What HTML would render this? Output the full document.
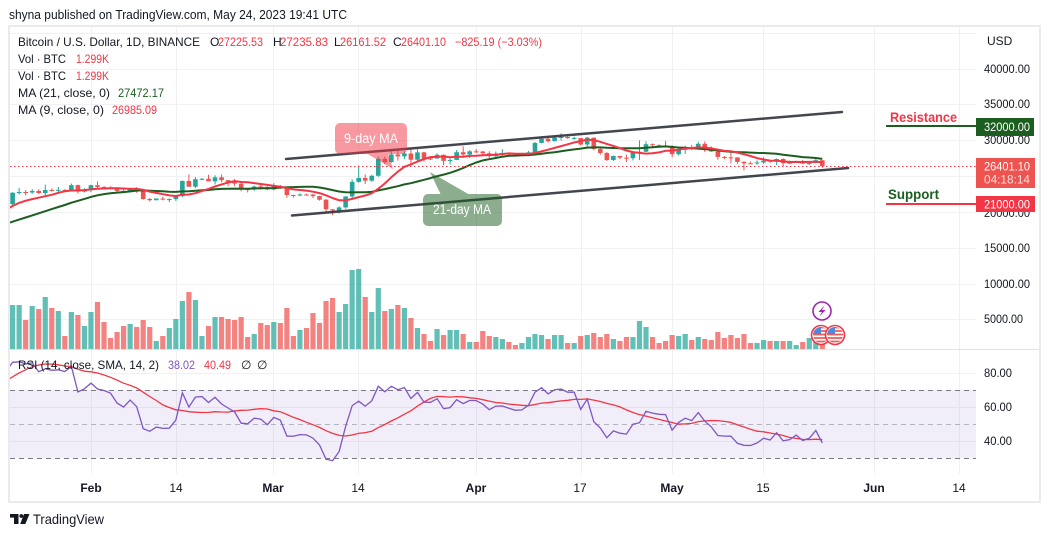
<!DOCTYPE html>
<html><head><meta charset="utf-8">
<style>
html,body{margin:0;padding:0;background:#fff;width:1050px;height:537px;overflow:hidden}
svg{display:block;font-family:"Liberation Sans",Arial,sans-serif}
</style></head><body>
<svg id="c" width="1050" height="537" viewBox="0 0 1050 537" xmlns="http://www.w3.org/2000/svg">
<defs>
<clipPath id="cm"><rect x="10" y="27" width="966" height="322"/></clipPath>
<clipPath id="cr"><rect x="10" y="350" width="966" height="124"/></clipPath>
<clipPath id="f1"><circle cx="821" cy="335" r="8"/></clipPath>
<clipPath id="f2"><circle cx="835" cy="335" r="8"/></clipPath>
</defs>
<rect width="1050" height="537" fill="#fff"/>
<text x="9" y="19" font-size="13" fill="#131722" textLength="338" lengthAdjust="spacingAndGlyphs">shyna published on TradingView.com, May 24, 2023 19:41 UTC</text>

<!-- grid -->
<g stroke="#eff1f5" stroke-width="1" fill="none">
<path d="M10 33.5H976M10 69.5H976M10 104.5H976M10 140.5H976M10 176.5H976M10 212.5H976M10 248.5H976M10 284.5H976M10 319.5H976"/>
<path d="M10 373.5H976M10 407.5H976M10 441.5H976"/>
<path d="M91.5 27V474M176.5 27V474M273.5 27V474M358.5 27V474M476.5 27V474M581.5 27V474M672.5 27V474M763.5 27V474M874.5 27V474M959.5 27V474"/>
</g>
<!-- RSI band -->
<rect x="10" y="390" width="966" height="68" fill="rgba(126,87,194,0.1)"/>
<g stroke-width="1" stroke-dasharray="5,4" fill="none">
<path d="M10 390.5H976M10 458.5H976" stroke="#787b86"/>
<path d="M10 424.5H976" stroke="#b2b5be"/>
</g>
<line x1="10" y1="349.5" x2="1040" y2="349.5" stroke="#e0e3eb" stroke-width="1"/>

<g clip-path="url(#cm)">
<g id="vol"></g>
<g id="cdl"></g>
<path id="ma21" fill="none" stroke="#1b5e20" stroke-width="2" stroke-linejoin="round"/>
<path id="ma9" fill="none" stroke="#f23645" stroke-width="2" stroke-linejoin="round"/>
</g>
<g clip-path="url(#cr)">
<path id="rsima" fill="none" stroke="#f23645" stroke-width="1.3"/>
<path id="rsi" fill="none" stroke="#7e57c2" stroke-width="1.3"/>
</g>

<!-- channel -->
<g stroke="#2f323c" stroke-width="2.5" stroke-linecap="round" opacity="0.9">
<line x1="286" y1="159" x2="842" y2="112"/>
<line x1="292" y1="215.5" x2="848" y2="168"/>
</g>
<line x1="10" y1="166.5" x2="976" y2="166.5" stroke="#f23645" stroke-width="1" stroke-dasharray="1.5,2.5"/>

<!-- callouts -->
<g opacity="0.5" fill="#f23645">
<rect x="335" y="123" width="72" height="31" rx="5"/>
<polygon points="366,153 388,153 393,169"/>
</g>
<text x="371" y="143" font-size="13.5" fill="#fff" text-anchor="middle" textLength="54" lengthAdjust="spacingAndGlyphs">9-day MA</text>
<g opacity="0.5" fill="#1b5e20">
<rect x="423" y="194" width="79" height="32" rx="5"/>
<polygon points="430,172 441,195 470,195"/>
</g>
<text x="462" y="214" font-size="13.5" fill="#fff" text-anchor="middle" textLength="58" lengthAdjust="spacingAndGlyphs">21-day MA</text>

<!-- resistance/support -->
<line x1="886" y1="126" x2="976" y2="126" stroke="#1b5e20" stroke-width="2"/>
<text x="890" y="122" font-size="14" font-weight="bold" fill="#f23645" textLength="67" lengthAdjust="spacingAndGlyphs">Resistance</text>
<line x1="886" y1="204" x2="976" y2="204" stroke="#f23645" stroke-width="2"/>
<text x="888" y="199" font-size="14" font-weight="bold" fill="#1b5e20" textLength="51" lengthAdjust="spacingAndGlyphs">Support</text>

<!-- legend -->
<g font-size="12" fill="#131722">
<text x="18" y="46" textLength="182" lengthAdjust="spacingAndGlyphs">Bitcoin / U.S. Dollar, 1D, BINANCE</text>
<text x="210" y="46">O</text><text x="218" y="46" fill="#f23645" textLength="45" lengthAdjust="spacingAndGlyphs">27225.53</text>
<text x="273" y="46">H</text><text x="280" y="46" fill="#f23645" textLength="48" lengthAdjust="spacingAndGlyphs">27235.83</text>
<text x="334" y="46">L</text><text x="340" y="46" fill="#f23645" textLength="46" lengthAdjust="spacingAndGlyphs">26161.52</text>
<text x="393" y="46">C</text><text x="401" y="46" fill="#f23645" textLength="45" lengthAdjust="spacingAndGlyphs">26401.10</text>
<text x="455" y="46" fill="#f23645" textLength="87" lengthAdjust="spacingAndGlyphs">−825.19 (−3.03%)</text>
<text x="18" y="63" textLength="48" lengthAdjust="spacingAndGlyphs">Vol · BTC</text><text x="76" y="63" fill="#f23645" textLength="33" lengthAdjust="spacingAndGlyphs">1.299K</text>
<text x="18" y="80" textLength="48" lengthAdjust="spacingAndGlyphs">Vol · BTC</text><text x="76" y="80" fill="#f23645" textLength="33" lengthAdjust="spacingAndGlyphs">1.299K</text>
<text x="18" y="97" textLength="92" lengthAdjust="spacingAndGlyphs">MA (21, close, 0)</text><text x="118" y="97" fill="#1b5e20" textLength="46" lengthAdjust="spacingAndGlyphs">27472.17</text>
<text x="18" y="114" textLength="86" lengthAdjust="spacingAndGlyphs">MA (9, close, 0)</text><text x="112" y="114" fill="#f23645" textLength="45" lengthAdjust="spacingAndGlyphs">26985.09</text>
<text x="18" y="369" textLength="141" lengthAdjust="spacingAndGlyphs">RSI (14, close, SMA, 14, 2)</text>
<text x="168" y="369" fill="#7e57c2" textLength="27" lengthAdjust="spacingAndGlyphs">38.02</text>
<text x="204" y="369" fill="#f23645" textLength="27" lengthAdjust="spacingAndGlyphs">40.49</text>
<text x="241" y="369">∅</text><text x="257" y="369">∅</text>
</g>

<!-- price axis -->
<g font-size="12" fill="#131722">
<text x="987" y="45">USD</text>
<text x="984" y="73" textLength="46" lengthAdjust="spacingAndGlyphs">40000.00</text>
<text x="984" y="108" textLength="46" lengthAdjust="spacingAndGlyphs">35000.00</text>
<text x="984" y="144" textLength="46" lengthAdjust="spacingAndGlyphs">30000.00</text>
<text x="984" y="217" textLength="46" lengthAdjust="spacingAndGlyphs">20000.00</text>
<text x="984" y="252" textLength="46" lengthAdjust="spacingAndGlyphs">15000.00</text>
<text x="984" y="288" textLength="46" lengthAdjust="spacingAndGlyphs">10000.00</text>
<text x="984" y="323" textLength="39" lengthAdjust="spacingAndGlyphs">5000.00</text>
<text x="984" y="377" textLength="28" lengthAdjust="spacingAndGlyphs">80.00</text>
<text x="984" y="411" textLength="28" lengthAdjust="spacingAndGlyphs">60.00</text>
<text x="984" y="445" textLength="28" lengthAdjust="spacingAndGlyphs">40.00</text>
</g>
<rect x="976" y="118" width="58" height="18" fill="#1b5e20"/>
<text x="984" y="131" font-size="12" fill="#fff" textLength="46" lengthAdjust="spacingAndGlyphs">32000.00</text>
<rect x="976" y="158" width="59" height="30" fill="#ef5350"/>
<text x="984" y="170.5" font-size="12" fill="#fff" textLength="46" lengthAdjust="spacingAndGlyphs">26401.10</text>
<text x="984" y="183.5" font-size="12" fill="#fde0e0" textLength="46" lengthAdjust="spacingAndGlyphs">04:18:14</text>
<rect x="976" y="196" width="59" height="16" fill="#f23645"/>
<text x="984" y="208.5" font-size="12" fill="#fff" textLength="46" lengthAdjust="spacingAndGlyphs">21000.00</text>

<!-- time axis -->
<g font-size="12" fill="#131722" text-anchor="middle">
<text x="91" y="492" font-weight="bold">Feb</text>
<text x="176" y="492">14</text>
<text x="273" y="492" font-weight="bold">Mar</text>
<text x="358" y="492">14</text>
<text x="476" y="492" font-weight="bold">Apr</text>
<text x="580" y="492">17</text>
<text x="672" y="492" font-weight="bold">May</text>
<text x="763" y="492">15</text>
<text x="874" y="492" font-weight="bold">Jun</text>
<text x="959" y="492">14</text>
</g>

<!-- icons -->
<circle cx="822" cy="311" r="9" fill="#fff" stroke="#9c27b0" stroke-width="1.6"/>
<path d="M824.5 305.5 L818.5 312 L822 312 L819.5 316.5 L825.5 310 L822 310 Z" fill="#9c27b0"/>
<g>
<circle cx="821" cy="335" r="9.5" fill="#fff" stroke="#f23645" stroke-width="1.6"/>
<g clip-path="url(#f1)">
<rect x="812" y="326" width="18" height="18" fill="#fff"/>
<path d="M812 327.5H830M812 331H830M812 334.5H830M812 338H830M812 341.5H830" stroke="#f05a5a" stroke-width="1.8"/>
<rect x="812" y="326" width="9" height="8" fill="#4a8be0"/>
</g>
<circle cx="835" cy="335" r="9.5" fill="#fff" stroke="#f23645" stroke-width="1.6"/>
<g clip-path="url(#f2)">
<rect x="826" y="326" width="18" height="18" fill="#fff"/>
<path d="M826 327.5H844M826 331H844M826 334.5H844M826 338H844M826 341.5H844" stroke="#f05a5a" stroke-width="1.8"/>
<rect x="826" y="326" width="9" height="8" fill="#4a8be0"/>
</g>
</g>

<!-- frame -->
<rect x="9" y="26" width="1031" height="476" fill="none" stroke="#e9ebf0" stroke-width="2"/>

<!-- logo -->
<g fill="#131722">
<rect x="10" y="514" width="8.5" height="3.6"/>
<rect x="14" y="514" width="4.5" height="10"/>
<circle cx="21.3" cy="516" r="1.9"/>
<polygon points="24,514 29.5,514 25.3,524 20.2,524"/>
</g>
<text x="33" y="524" font-size="14" fill="#131722" textLength="71" lengthAdjust="spacingAndGlyphs">TradingView</text>
</svg>
<script>
(function(){
var pre=[16970,17090,16890,17110,16970,17090,16840,17220,17130,17130,17090,17210,17780,17800,17360,16630,16780,16740,16440,16900,16820,16830,16780,16840,16830,16920,16700,16550,16630,16600,16540,16620,16680,16680,16860,16830,16950,16940,17120,17180,17440,17950,18850,19930,20950,20870,21180,21130,20680,21080];
var D=[[22750,20850,22680],[23370,22420,22780],[23080,22300,22710],[23170,22530,22920],[23160,22470,22630],[23800,22320,23060],[23290,22860,23010],[23500,22530,23080],[23170,22880,23030],[23960,23000,23740],[23820,22550,22830],[23310,22720,23130],
[23800,22760,23730],[24250,23370,23490],[23590,23210,23430],[23580,23250,23330],[23430,22750,22930],[23160,22630,22760],[23350,22740,23240],[23450,22670,22960],[22990,21690,21800],[21940,21460,21630],[21900,21600,21860],[22090,21630,21780],[21890,21360,21790],[22320,21530,22200],[24380,22050,24330],[25250,23510,23520],[24870,23340,24570],[24760,24450,24630],[25190,24250,24280],[25120,23840,24840],[25250,24150,24440],[24480,23580,24190],[24600,23600,23950],[24130,22860,23190],[23220,22720,23150],[23680,22950,23550],[23880,23100,23490],[23600,23020,23140],
[24000,23020,23630],[23770,23200,23470],[23480,21970,22350],[22410,22000,22340],[22600,22200,22430],[22550,22300,22410],[22520,21930,22200],[22270,21580,21700],[21800,20050,20360],[20370,19550,20190],[20790,19760,20620],[22180,20450,22160],[24530,21910,24200],[26500,24080,24750],[25240,23900,24370],[25200,24200,25050],[27760,24900,27420],[27720,26670,26970],[28440,26880,28040],[28550,27170,27770],[28470,27370,28170],[28880,26630,27300],[28750,27150,28330],[28400,27020,27480],[27800,27260,27470],[28200,27420,27990],[28040,26560,27140],[27500,26630,27270],[28650,27240,28350],[29180,27700,28030],[28650,27530,28470],
[28800,28250,28450],[28530,27870,28200],[28490,27260,27790],[28440,27670,28170],[28770,27820,28180],[28180,27710,28030],[28100,27790,27910],[28170,27880,27940],[28530,27800,28330],[29770,28170,29650],[30550,29610,30230],[30480,29700,29890],[30600,29880,30400],[31000,29970,30480],[30620,30220,30320],[30550,30120,30330],[30330,29270,29430],[30490,29100,30390],[30410,28600,28800],[29100,28000,28240],[28370,27130,27260],[27880,27130,27820],[27820,27350,27590],[28000,26970,27510],[28400,27200,28300],[30000,27250,28420],[29880,28380,29470],[29570,28900,29340],[29450,29100,29250],[29950,29100,29230],
[29330,27660,28070],[28880,27870,28680],[29270,28120,29030],[29380,28670,28850],[29840,28800,29530],[29860,28360,28900],[29180,28390,28450],[28650,27300,27690],[27820,27370,27630],[28330,26800,27620],[27640,26730,26990],[27100,25800,26800],[27030,26700,26780],[27200,26600,26910],[27650,26720,27160],[27270,26870,27030],[27480,26560,27400],[27480,26400,26830],[27190,26690,26890],[27150,26850,27110],[27270,26700,26750],[27070,26530,26850],[27490,26810,27225],[27236,26162,26401]];
var vt=[305,305,320,306,309,297,308,311,336,312,315,326,312,302,322,338,332,326,324,327,320,327,341,336,328,319,301,292,300,336,326,317,317,319,320,317,337,334,323,325,322,323,308,336,330,328,313,323,301,298,312,304,270,269,297,312,288,311,309,305,308,318,328,334,341,329,335,330,330,334,342,342,331,336,337,339,342,345,343,337,334,335,339,335,335,343,343,336,335,333,337,334,339,341,337,337,321,327,337,343,341,335,336,334,340,337,339,340,332,338,335,338,334,343,343,340,341,341,341,341,345,342,338,338,340];
var C=pre.slice();for(var i=0;i<D.length;i++)C.push(D[i][2]);
var N0=pre.length;
function X(i){return 12.6+i*6.53;}
function Y(p){return 69+(40000-p)*250/35000;}
var NS="http://www.w3.org/2000/svg";
function el(t,a,p){var e=document.createElementNS(NS,t);for(var k in a)e.setAttribute(k,a[k]);p.appendChild(e);return e;}
var gv=document.getElementById('vol'),gc=document.getElementById('cdl');
for(var i=0;i<D.length;i++){
 var o=C[N0+i-1],h=D[i][0],l=D[i][1],c=D[i][2];
 var up=c>=o,col=up?'#26a69a':'#ef5350',x=X(i);
 var t=vt[i]||345;
 el('rect',{x:(x-2.6).toFixed(2),y:t,width:5.2,height:349-t,fill:up?'rgba(38,166,154,0.72)':'rgba(239,83,80,0.72)'},gv);
 el('line',{x1:x.toFixed(2),x2:x.toFixed(2),y1:Y(h).toFixed(2),y2:Y(l).toFixed(2),stroke:col,'stroke-width':1},gc);
 var yt=Y(Math.max(o,c)),yb=Y(Math.min(o,c));if(yb-yt<1)yb=yt+1;
 el('rect',{x:(x-2.3).toFixed(2),y:yt.toFixed(2),width:4.6,height:(yb-yt).toFixed(2),fill:col},gc);
}
function sma(n,k){var s=0;for(var j=k-n+1;j<=k;j++)s+=C[j];return s/n;}
var p9='',p21='';
for(var i=-1;i<D.length;i++){var k=N0+i,x=X(i).toFixed(1);
 p9+=(i<0?'M':'L')+x+','+Y(sma(9,k)).toFixed(1);
 p21+=(i<0?'M':'L')+x+','+Y(sma(21,k)).toFixed(1);}
document.getElementById('ma9').setAttribute('d',p9);
document.getElementById('ma21').setAttribute('d',p21);
var R=[],ag=0,al=0;
for(var j=1;j<=14;j++){var ch=C[j]-C[j-1];if(ch>0)ag+=ch;else al-=ch;}
ag/=14;al/=14;R[14]=100-100/(1+ag/al);
for(var j=15;j<C.length;j++){var ch=C[j]-C[j-1];var g=ch>0?ch:0,lo=ch<0?-ch:0;ag=(ag*13+g)/14;al=(al*13+lo)/14;R[j]=al==0?100:100-100/(1+ag/al);}
function RY(r){return 373+(80-r)*1.7;}
var pr='',pm='';
for(var i=-1;i<D.length;i++){var k=N0+i,x=X(i).toFixed(1);var s=0;for(var j=k-13;j<=k;j++)s+=R[j];s/=14;
 pr+=(i<0?'M':'L')+x+','+RY(R[k]).toFixed(1);
 pm+=(i<0?'M':'L')+x+','+RY(s).toFixed(1);}
document.getElementById('rsi').setAttribute('d',pr);
document.getElementById('rsima').setAttribute('d',pm);
})();
</script>
</body></html>
